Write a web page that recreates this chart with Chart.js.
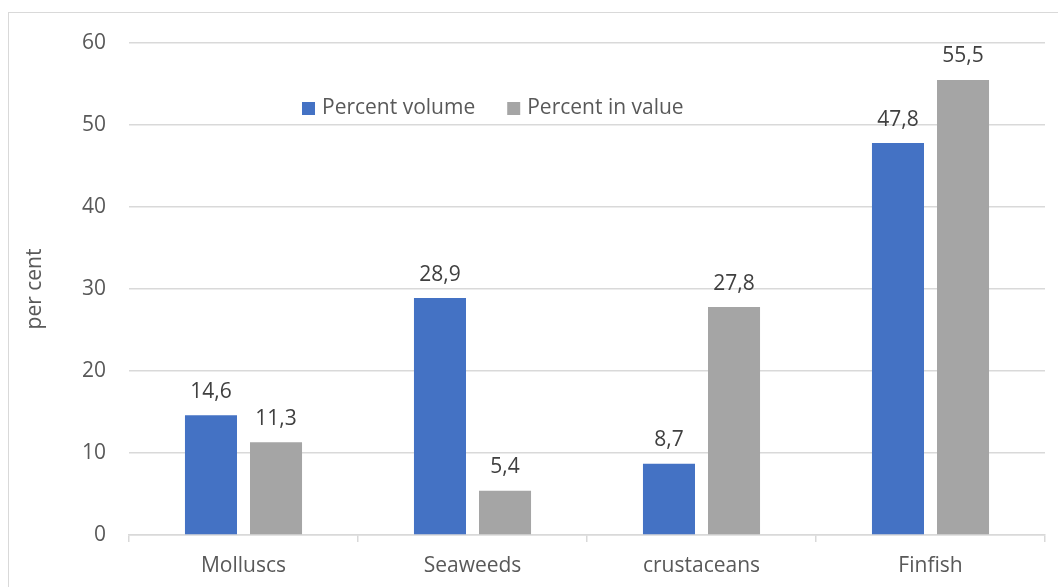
<!DOCTYPE html>
<html>
<head>
<meta charset="utf-8">
<script src="https://cdn.jsdelivr.net/npm/chart.js@4/dist/chart.umd.min.js"></script>
<style>
  html, body { margin: 0; padding: 0; background: #fff; overflow: hidden; }
  #wrap { position: relative; width: 1058px; height: 587px; }
  #frame {
    position: absolute; left: 8px; top: 12px; width: 1060px; height: 600px;
    border: 1.5px solid #d9d9d9; box-sizing: border-box;
  }
  canvas { position: absolute; left: 0; top: 0; }
</style>
</head>
<body>
<div id="wrap">
  <div id="frame"></div>
  <canvas id="chartCanvas" width="1058" height="587"></canvas>
</div>
<script>
// species groups and their share of production
var categories = ['Molluscs', 'Seaweeds', 'crustaceans', 'Finfish']
var percentVolume = [14.6, 28.9, 8.7, 47.8]
var percentValue = [11.3, 5.4, 27.8, 55.5]
var seriesNames = ['Percent volume', 'Percent in value']
var yTicks = [0, 10, 20, 30, 40, 50, 60]

var fontFamily = '"Open Sans", "Noto Sans", sans-serif'
var fontSize = 21
var axisColor = '#595959'
var gridColor = '#d9d9d9'

// value labels above each bar, decimal comma
var valueLabels = {
    id: 'valueLabels',
    afterDatasetsDraw(chart) {
        var ctx = chart.ctx
        ctx.save()
        ctx.font = fontSize + 'px ' + fontFamily
        ctx.fillStyle = '#404040'
        ctx.textAlign = 'center'
        ctx.textBaseline = 'bottom'
        chart.data.datasets.forEach((ds, i) => {
            chart.getDatasetMeta(i).data.forEach((bar, j) => {
                var txt = ds.data[j].toFixed(1).replace('.', ',')
                ctx.fillText(txt, bar.x, bar.y - 13)
            })
        })
        ctx.restore()
    }
}

// legend drawn inside the plot area
var innerLegend = {
    id: 'innerLegend',
    afterDraw(chart) {
        var ctx = chart.ctx
        var area = chart.chartArea
        var y = area.top + 65
        var x = 302
        ctx.save()
        ctx.font = fontSize + 'px ' + fontFamily
        ctx.textBaseline = 'middle'
        chart.data.datasets.forEach(ds => {
            ctx.fillStyle = ds.backgroundColor
            ctx.fillRect(x, y - 6, 13, 13)
            ctx.fillStyle = axisColor
            ctx.fillText(ds.label, x + 20, y)
            x += 20 + ctx.measureText(ds.label).width + 32
        })
        ctx.restore()
    }
}

var ctx = document.getElementById('chartCanvas')
var myChart = new Chart(ctx, {
    type: 'bar',
    data: {
        labels: categories,
        datasets: [
            { label: seriesNames[0], data: percentVolume, backgroundColor: '#4472C4',
              categoryPercentage: 0.568, barPercentage: 0.8 },
            { label: seriesNames[1], data: percentValue, backgroundColor: '#A5A5A5',
              categoryPercentage: 0.568, barPercentage: 0.8 }
        ]
    },
    options: {
        responsive: false,
        animation: false,
        layout: { padding: { top: 43, right: 13, left: 0, bottom: 0 } },
        plugins: {
            legend: { display: false },
            tooltip: { enabled: false }
        },
        scales: {
            x: {
                grid: { display: true, drawOnChartArea: false, color: gridColor, lineWidth: 1.5, tickLength: 7 },
                border: { color: gridColor, width: 1.5 },
                ticks: { color: axisColor, font: { family: fontFamily, size: fontSize }, padding: 11 },
                afterFit(scale) { scale.height = 52 }
            },
            y: {
                min: 0, max: 60,
                afterBuildTicks(scale) { scale.ticks = yTicks.map(v => ({ value: v })) },
                grid: { color: gridColor, lineWidth: 1.5, drawTicks: false },
                border: { display: false },
                ticks: { color: axisColor, font: { family: fontFamily, size: fontSize }, padding: 23 },
                title: { display: true, text: 'per cent', color: axisColor,
                         font: { family: fontFamily, size: fontSize }, padding: { top: 22, bottom: 0 } },
                afterFit(scale) { scale.width = 129 }
            }
        }
    },
    plugins: [valueLabels, innerLegend]
})
</script>
</body>
</html>
